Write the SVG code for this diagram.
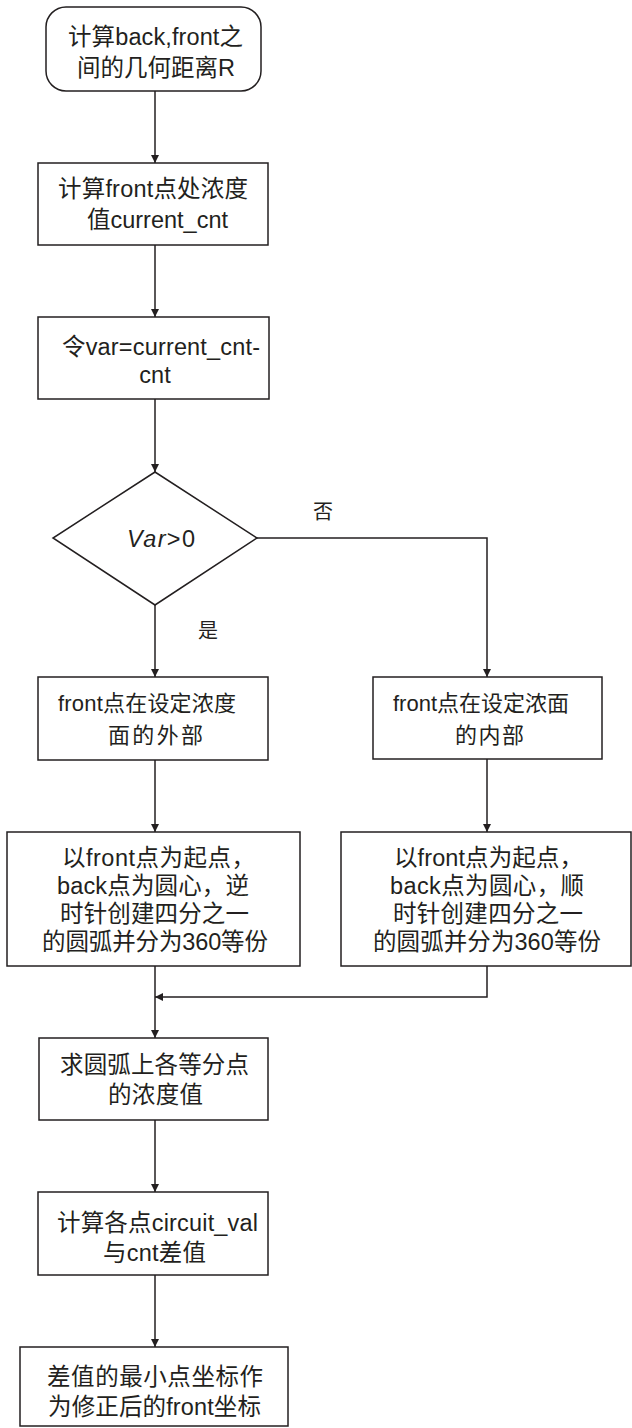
<svg xmlns="http://www.w3.org/2000/svg" width="632" height="1428" viewBox="0 0 632 1428">
<style>
.n{fill:#fff;stroke:#231f20;stroke-width:1.5}
.c{fill:none;stroke:#231f20;stroke-width:1.5}
text{font-family:"Liberation Sans","Noto Sans CJK SC",sans-serif;font-size:23.5px;fill:#231f20}
.s{font-size:22px}
.lbl{font-size:20px}
</style>
<defs>
<marker id="ah" viewBox="0 0 10 10" refX="10" refY="5" markerWidth="8" markerHeight="8" markerUnits="userSpaceOnUse" orient="auto">
<path d="M0,0 L10,5 L0,10 z" fill="#231f20"/>
</marker>
</defs>
<rect width="632" height="1428" fill="#fff"/>
<g id="connectors">
<path class="c" d="M155,91 V163" marker-end="url(#ah)"/>
<path class="c" d="M155,245 V317" marker-end="url(#ah)"/>
<path class="c" d="M155,399 V472" marker-end="url(#ah)"/>
<path class="c" d="M155,605 V677" marker-end="url(#ah)"/>
<path class="c" d="M257,538 H487 V677" marker-end="url(#ah)"/>
<path class="c" d="M155,760 V832" marker-end="url(#ah)"/>
<path class="c" d="M487,759 V832" marker-end="url(#ah)"/>
<path class="c" d="M155,966 V1038" marker-end="url(#ah)"/>
<path class="c" d="M487,966 V997 H155" marker-end="url(#ah)"/>
<path class="c" d="M155,1120 V1192" marker-end="url(#ah)"/>
<path class="c" d="M155,1275 V1347" marker-end="url(#ah)"/>
<text class="lbl" x="313" y="519">否</text>
<text class="lbl" x="198" y="638">是</text>
</g>
<g id="start">
<rect class="n" x="46" y="7" width="215" height="84" rx="20"/>
<text x="68" y="45" textLength="175" lengthAdjust="spacing">计算back,front之</text>
<text x="77" y="76" textLength="158" lengthAdjust="spacing">间的几何距离R</text>
</g>
<g id="calc-front">
<rect class="n" x="38" y="163" width="230" height="82"/>
<text x="58" y="197" textLength="190" lengthAdjust="spacing">计算front点处浓度</text>
<text x="87" y="228" textLength="141" lengthAdjust="spacing">值current_cnt</text>
</g>
<g id="var">
<rect class="n" x="38" y="317" width="231" height="82"/>
<text x="62" y="355" textLength="198" lengthAdjust="spacing">令var=current_cnt-</text>
<text x="155" y="383" text-anchor="middle">cnt</text>
</g>
<g id="decision">
<polygon class="n" points="155,472 257,538 155,605 53,538"/>
<text x="127" y="547" textLength="68" lengthAdjust="spacing"><tspan font-style="italic">Var</tspan>&gt;0</text>
</g>
<g id="outside">
<rect class="n" x="38" y="677" width="230" height="83"/>
<text class="s" x="58" y="711" textLength="178" lengthAdjust="spacing">front点在设定浓度</text>
<text class="s" x="108" y="743" textLength="95" lengthAdjust="spacing">面的外部</text>
</g>
<g id="inside">
<rect class="n" x="373" y="677" width="229" height="82"/>
<text class="s" x="393" y="711" textLength="176" lengthAdjust="spacing">front点在设定浓面</text>
<text class="s" x="455" y="743" textLength="69" lengthAdjust="spacing">的内部</text>
</g>
<g id="arc-ccw">
<rect class="n" x="7" y="832" width="293" height="134"/>
<text x="62" y="866" textLength="193" lengthAdjust="spacing">以front点为起点，</text>
<text x="57" y="894" textLength="192" lengthAdjust="spacing">back点为圆心，逆</text>
<text x="60" y="922" textLength="189" lengthAdjust="spacing">时针创建四分之一</text>
<text x="42" y="950" textLength="226" lengthAdjust="spacing">的圆弧并分为360等份</text>
</g>
<g id="arc-cw">
<rect class="n" x="341" y="832" width="290" height="134"/>
<text x="394" y="866" textLength="189" lengthAdjust="spacing">以front点为起点，</text>
<text x="390" y="894" textLength="194" lengthAdjust="spacing">back点为圆心，顺</text>
<text x="393" y="922" textLength="190" lengthAdjust="spacing">时针创建四分之一</text>
<text x="373" y="950" textLength="228" lengthAdjust="spacing">的圆弧并分为360等份</text>
</g>
<g id="arc-points">
<rect class="n" x="39" y="1038" width="229" height="82"/>
<text x="60" y="1073" textLength="189" lengthAdjust="spacing">求圆弧上各等分点</text>
<text x="108" y="1103" textLength="95" lengthAdjust="spacing">的浓度值</text>
</g>
<g id="diff">
<rect class="n" x="38" y="1192" width="230" height="83"/>
<text x="57" y="1231" textLength="201" lengthAdjust="spacing">计算各点circuit_val</text>
<text x="103" y="1261" textLength="103" lengthAdjust="spacing">与cnt差值</text>
</g>
<g id="result">
<rect class="n" x="20" y="1347" width="268" height="79"/>
<text x="47" y="1385" textLength="216" lengthAdjust="spacing">差值的最小点坐标作</text>
<text x="48" y="1415" textLength="213" lengthAdjust="spacing">为修正后的front坐标</text>
</g>
</svg>
